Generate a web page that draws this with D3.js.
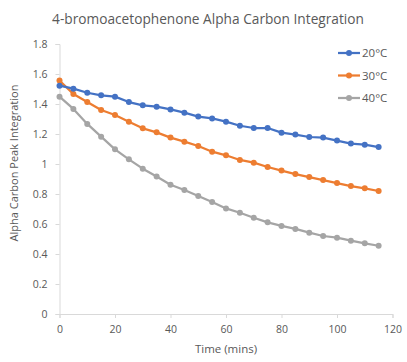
<!DOCTYPE html>
<html>
<head>
<meta charset="utf-8">
<script src="https://cdn.jsdelivr.net/npm/d3@7"></script>
<style>
  body { margin: 0; background: #fff; }
  svg { font-family: "Open Sans", sans-serif; }
</style>
</head>
<body>
<svg width="407" height="362"></svg>
<script>
const times = [0, 5, 10, 15, 20, 25, 30, 35, 40, 45, 50, 55, 60, 65, 70, 75, 80, 85, 90, 95, 100, 105, 110, 115];
const temp20 = [1.522, 1.502, 1.475, 1.458, 1.449, 1.413, 1.391, 1.382, 1.364, 1.342, 1.316, 1.304, 1.282,
    1.255, 1.240, 1.240, 1.209, 1.196, 1.180, 1.176, 1.156, 1.136, 1.129, 1.113];
const temp30 = [1.556, 1.467, 1.413, 1.360, 1.327, 1.282, 1.238, 1.211, 1.176, 1.149, 1.120, 1.082, 1.058,
    1.027, 1.009, 0.980, 0.956, 0.933, 0.913, 0.893, 0.873, 0.853, 0.838, 0.820];
const temp40 = [1.449, 1.367, 1.267, 1.182, 1.098, 1.031, 0.969, 0.916, 0.862, 0.827, 0.787, 0.747, 0.704,
    0.675, 0.642, 0.611, 0.587, 0.567, 0.542, 0.520, 0.509, 0.489, 0.471, 0.455];
const seriesNames = ["20°C", "30°C", "40°C"];
const seriesColors = ["#4472C4", "#ED7D31", "#A5A5A5"];
const xTicks = [0, 20, 40, 60, 80, 100, 120];
const yTicks = [0, 0.2, 0.4, 0.6, 0.8, 1, 1.2, 1.4, 1.6, 1.8];

const svg = d3.select("svg");
const margin = {left: 59.5, right: 15, top: 44, bottom: 48};

const x = d3.scaleLinear().domain([0, 120]).range([margin.left, 392.5]);
const y = d3.scaleLinear().domain([0, 1.8]).range([314, 44]);

const textColor = "#595959";
const axisColor = "#D9D9D9";
const font = "'Open Sans', sans-serif";

// title
svg.append("text")
    .attr("x", 208)
    .attr("y", 24)
    .attr("text-anchor", "middle")
    .attr("font-size", 13.7)
    .attr("fill", textColor)
    .text("4-bromoacetophenone Alpha Carbon Integration");

// y axis
const yAxis = svg.append("g")
    .attr("transform", `translate(${margin.left},0)`)
    .call(d3.axisLeft(y).tickValues(yTicks).tickSize(4).tickPadding(8)
        .tickFormat(d => String(+d.toFixed(1))));
yAxis.select(".domain").attr("stroke", axisColor);
yAxis.selectAll(".tick line").attr("stroke", axisColor);
yAxis.selectAll(".tick text")
    .attr("fill", textColor)
    .attr("font-size", 10.5)
    .attr("font-family", font);

// x axis
const xAxis = svg.append("g")
    .attr("transform", `translate(0,${y(0)})`)
    .call(d3.axisBottom(x).tickValues(xTicks).tickSize(4).tickPadding(8));
xAxis.select(".domain").attr("stroke", axisColor);
xAxis.selectAll(".tick line").attr("stroke", axisColor);
xAxis.selectAll(".tick text")
    .attr("fill", textColor)
    .attr("font-size", 10.5)
    .attr("font-family", font);

// axis titles
svg.append("text")
    .attr("x", 226)
    .attr("y", 353)
    .attr("text-anchor", "middle")
    .attr("font-size", 11.5)
    .attr("fill", textColor)
    .text("Time (mins)");

svg.append("text")
    .attr("transform", "translate(18,163) rotate(-90)")
    .attr("text-anchor", "middle")
    .attr("font-size", 11)
    .attr("fill", textColor)
    .text("Alpha Carbon Peak Integration");

// series
const series = [temp20, temp30, temp40].map((vals, i) => ({
    name: seriesNames[i],
    color: seriesColors[i],
    points: vals.map((v, j) => ({t: times[j], v: v}))
}));

const line = d3.line().x(d => x(d.t)).y(d => y(d.v));

const seriesG = svg.append("g").attr("class", "series");
series.slice().reverse().forEach(s => {
    const g = seriesG.append("g");
    g.append("path")
        .attr("d", line(s.points))
        .attr("fill", "none")
        .attr("stroke", s.color)
        .attr("stroke-width", 2.25)
        .attr("stroke-linejoin", "round");
    g.selectAll("circle")
        .data(s.points)
        .enter().append("circle")
        .attr("cx", d => x(d.t))
        .attr("cy", d => y(d.v))
        .attr("r", 3)
        .attr("fill", s.color);
});

// legend
const legend = svg.append("g").attr("class", "legend");
const legendY = [53, 75.5, 98];
series.forEach((s, i) => {
    const g = legend.append("g").attr("transform", `translate(338,${legendY[i]})`);
    g.append("line")
        .attr("x1", 0).attr("x2", 22)
        .attr("stroke", s.color)
        .attr("stroke-width", 2.25);
    g.append("circle")
        .attr("cx", 11)
        .attr("r", 3)
        .attr("fill", s.color);
    g.append("text")
        .attr("x", 24)
        .attr("dy", "0.35em")
        .attr("font-size", 11.5)
        .attr("fill", textColor)
        .text(s.name);
});
</script>
</body>
</html>
